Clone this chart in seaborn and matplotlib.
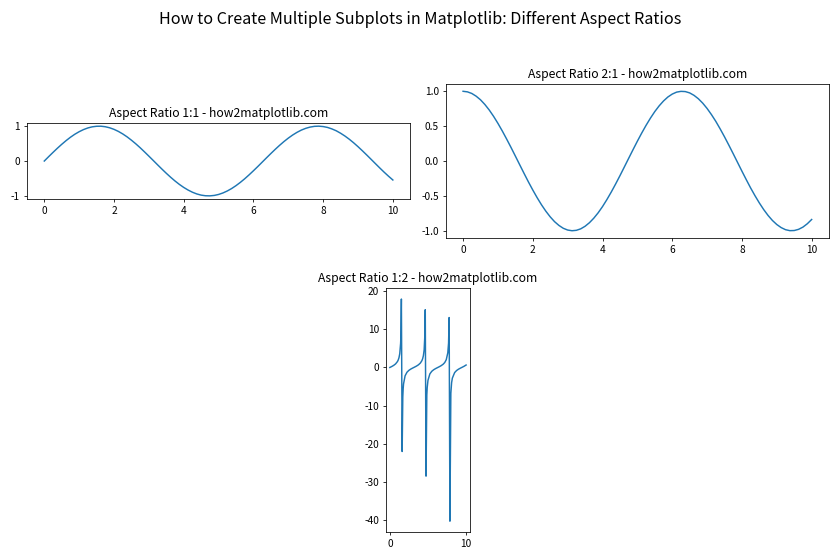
import matplotlib
matplotlib.use("Agg")
import matplotlib.pyplot as plt
import seaborn as sns
import pandas as pd

# ---- data ----
x_wave = [0.0, 0.125, 0.25, 0.375, 0.5, 0.625, 0.75, 0.875, 1.0, 1.125, 1.25, 1.375,
          1.5, 1.625, 1.75, 1.875, 2.0, 2.125, 2.25, 2.375, 2.5, 2.625, 2.75, 2.875,
          3.0, 3.125, 3.25, 3.375, 3.5, 3.625, 3.75, 3.875, 4.0, 4.125, 4.25, 4.375,
          4.5, 4.625, 4.75, 4.875, 5.0, 5.125, 5.25, 5.375, 5.5, 5.625, 5.75, 5.875,
          6.0, 6.125, 6.25, 6.375, 6.5, 6.625, 6.75, 6.875, 7.0, 7.125, 7.25, 7.375,
          7.5, 7.625, 7.75, 7.875, 8.0, 8.125, 8.25, 8.375, 8.5, 8.625, 8.75, 8.875,
          9.0, 9.125, 9.25, 9.375, 9.5, 9.625, 9.75, 9.875, 10.0]
sin_vals = [0.0, 0.125, 0.247, 0.366, 0.479, 0.585, 0.682, 0.768, 0.841, 0.902,
            0.949, 0.981, 0.997, 0.999, 0.984, 0.954, 0.909, 0.850, 0.778, 0.694,
            0.598, 0.494, 0.382, 0.263, 0.141, 0.017, -0.108, -0.231, -0.351, -0.465,
            -0.572, -0.670, -0.757, -0.832, -0.895, -0.944, -0.978, -0.996, -0.999,
            -0.987, -0.959, -0.916, -0.859, -0.789, -0.706, -0.612, -0.509, -0.397,
            -0.279, -0.158, -0.033, 0.092, 0.215, 0.335, 0.450, 0.558, 0.657, 0.746,
            0.823, 0.888, 0.938, 0.974, 0.995, 1.000, 0.989, 0.964, 0.922, 0.868,
            0.798, 0.717, 0.625, 0.523, 0.412, 0.295, 0.174, 0.050, -0.075, -0.199,
            -0.320, -0.435, -0.544]
cos_vals = [1.0, 0.992, 0.969, 0.930, 0.878, 0.811, 0.732, 0.641, 0.540, 0.431,
            0.315, 0.195, 0.071, -0.054, -0.178, -0.300, -0.416, -0.526, -0.628,
            -0.720, -0.801, -0.870, -0.924, -0.965, -0.990, -1.000, -0.994, -0.973,
            -0.936, -0.885, -0.820, -0.743, -0.654, -0.554, -0.446, -0.331, -0.211,
            -0.087, 0.038, 0.162, 0.284, 0.401, 0.512, 0.615, 0.709, 0.791, 0.861,
            0.918, 0.960, 0.988, 0.999, 0.996, 0.977, 0.942, 0.893, 0.830, 0.754,
            0.666, 0.569, 0.461, 0.347, 0.227, 0.104, -0.021, -0.146, -0.268, -0.387,
            -0.498, -0.602, -0.697, -0.781, -0.853, -0.911, -0.955, -0.985, -0.999,
            -0.997, -0.980, -0.948, -0.900, -0.839]
x_tan = [0.0, 0.25, 0.5, 0.75, 1.0, 1.1, 1.2, 1.3, 1.414, 1.45, 1.515, 1.616, 1.7,
         1.75, 1.8, 2.0, 2.25, 2.5, 2.75, 3.0, 3.25, 3.5, 3.75, 4.0, 4.2, 4.3, 4.4,
         4.5, 4.6, 4.646, 4.747, 4.85, 4.9, 5.0, 5.25, 5.5, 5.75, 6.0, 6.25, 6.5,
         6.75, 7.0, 7.2, 7.4, 7.6, 7.7, 7.778, 7.879, 8.0, 8.1, 8.2, 8.5, 8.75, 9.0,
         9.25, 9.5, 9.75, 10.0]
tan_vals = [0.0, 0.255, 0.546, 0.932, 1.557, 1.965, 2.572, 3.602, 6.33, 8.24,
            17.95, -22.03, -7.70, -5.52, -4.29, -2.185, -1.239, -0.747, -0.411,
            -0.143, 0.109, 0.375, 0.697, 1.158, 1.777, 2.286, 3.097, 4.637, 8.86,
            15.15, -28.49, -7.22, -5.27, -3.381, -1.675, -0.996, -0.590, -0.291,
            -0.033, 0.220, 0.504, 0.871, 1.304, 2.047, 3.85, 6.37, 13.10, -40.30,
            -6.80, -3.98, -2.775, -1.33, -0.800, -0.452, -0.177, 0.075, 0.337, 0.648]

titles = ["Aspect Ratio 1:1 - how2matplotlib.com",
          "Aspect Ratio 2:1 - how2matplotlib.com",
          "Aspect Ratio 1:2 - how2matplotlib.com"]
suptitle = "How to Create Multiple Subplots in Matplotlib: Different Aspect Ratios"

plt.rcParams["font.family"] = ["Noto Sans CJK SC", "DejaVu Sans"]
plt.rcParams["axes.unicode_minus"] = False
plt.rcParams["font.size"] = 10.4

df_wave = pd.DataFrame({"x": x_wave, "sin": sin_vals, "cos": cos_vals})
df_tan = pd.DataFrame({"x": x_tan, "tan": tan_vals})

fig = plt.figure(figsize=(12, 8), dpi=70)
ax1 = fig.add_subplot(221)
ax2 = fig.add_subplot(222)
ax3 = fig.add_subplot(212)

sns.lineplot(data=df_wave, x="x", y="sin", ax=ax1, color="#1f77b4", linewidth=1.5)
ax1.set_aspect(1)
ax1.set_title(titles[0])

sns.lineplot(data=df_wave, x="x", y="cos", ax=ax2, color="#1f77b4", linewidth=1.5)
ax2.set_aspect(2)
ax2.set_title(titles[1])

sns.lineplot(data=df_tan, x="x", y="tan", ax=ax3, color="#1f77b4", linewidth=1.5)
ax3.set_aspect(0.5)
ax3.set_title(titles[2])

for ax in (ax1, ax2, ax3):
    ax.set_xlabel("")
    ax.set_ylabel("")

fig.suptitle(suptitle, fontsize=16.6)
fig.tight_layout()
fig.savefig("out.png", dpi=70)
